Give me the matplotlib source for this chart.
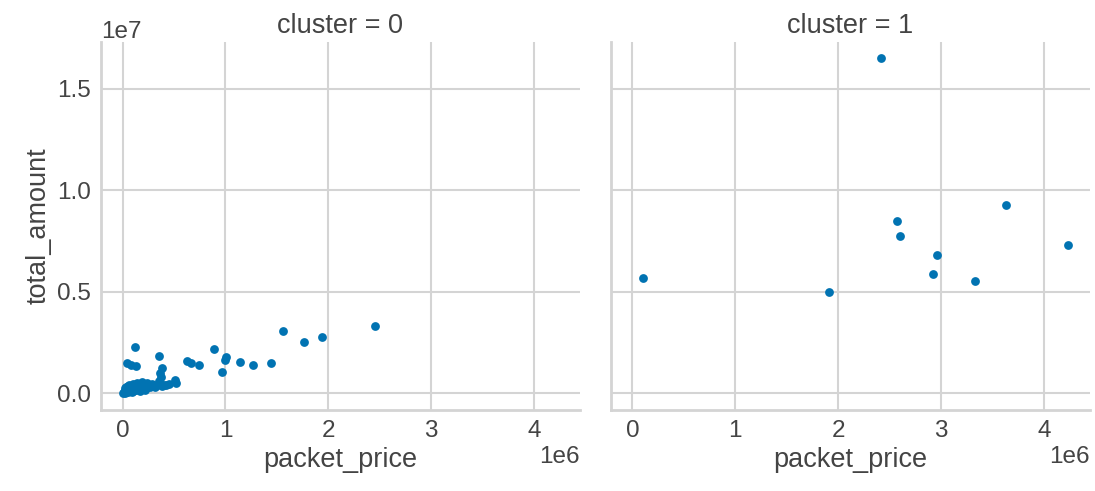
import matplotlib
matplotlib.use("Agg")
import matplotlib.pyplot as plt
from matplotlib.ticker import MultipleLocator
import seaborn as sns
import pandas as pd
import numpy as np

# packet_price and total_amount (in units of 1e6)
c0_price = [0.00, 0.01, 0.02, 0.02, 0.03, 0.04, 0.05, 0.05, 0.06, 0.07,
            0.08, 0.09, 0.10, 0.11, 0.12, 0.13, 0.15, 0.16, 0.18, 0.20,
            0.21, 0.23, 0.25, 0.27, 0.28, 0.30, 0.32, 0.34, 0.36, 0.38,
            0.40, 0.42, 0.45, 0.03, 0.06, 0.10, 0.14, 0.19, 0.24, 0.29,
            0.35, 0.37, 0.36, 0.38, 0.51, 0.52, 0.04, 0.08, 0.13, 0.12,
            0.35, 0.63, 0.67, 0.74, 0.89, 0.97, 1.00, 1.01, 1.14, 1.27,
            1.44, 1.56, 1.76, 1.94, 2.45, 0.02, 0.05, 0.09, 0.17, 0.22]
c0_amount = [0.00, 0.05, 0.02, 0.10, 0.08, 0.15, 0.05, 0.20, 0.12, 0.25,
             0.18, 0.30, 0.10, 0.22, 0.35, 0.15, 0.28, 0.40, 0.20, 0.32,
             0.45, 0.25, 0.38, 0.30, 0.42, 0.35, 0.30, 0.40, 0.45, 0.38,
             0.42, 0.40, 0.48, 0.30, 0.40, 0.45, 0.50, 0.55, 0.50, 0.48,
             0.60, 0.80, 1.00, 1.25, 0.65, 0.50, 1.51, 1.39, 1.34, 2.30,
             1.86, 1.59, 1.48, 1.39, 2.17, 1.03, 1.64, 1.80, 1.56, 1.39,
             1.48, 3.08, 2.54, 2.79, 3.33, 0.25, 0.35, 0.05, 0.10, 0.15]
c1_price = [0.10, 1.91, 2.42, 2.57, 2.60, 2.96, 2.92, 3.33, 3.63, 4.23]
c1_amount = [5.70, 4.97, 16.5, 8.50, 7.76, 6.80, 5.87, 5.52, 9.30, 7.31]

df = pd.DataFrame({
    "packet_price": np.array(c0_price + c1_price) * 1e6,
    "total_amount": np.array(c0_amount + c1_amount) * 1e6,
    "cluster": [0] * len(c0_price) + [1] * len(c1_price),
})

sns.set_style("whitegrid", {"grid.color": "#d4d4d4", "axes.edgecolor": "#d4d4d4"})
plt.rcParams["font.family"] = ["Liberation Sans", "DejaVu Sans"]
plt.rcParams["font.size"] = 17.5
plt.rcParams["grid.linewidth"] = 1.5
plt.rcParams["axes.linewidth"] = 2

g = sns.FacetGrid(df, col="cluster", height=4.91, aspect=1.1)
g.map(plt.scatter, "packet_price", "total_amount", s=40, color="#0173b2",
      linewidths=0)
g.figure.set_size_inches(10.95, 4.91)
g.figure.subplots_adjust(left=0.092, right=0.995, bottom=0.165, top=0.915,
                         wspace=0.065)

for ax in g.axes.flat:
    ax.yaxis.set_major_locator(MultipleLocator(5e6))
    ax.tick_params(labelsize=17.5, colors="#444444")
    ax.xaxis.label.set_size(19.5)
    ax.yaxis.label.set_size(19.5)
    ax.xaxis.label.set_color("#444444")
    ax.yaxis.label.set_color("#444444")
    ax.xaxis.get_offset_text().set_size(17.5)
    ax.yaxis.get_offset_text().set_size(17.5)
    ax.title.set_size(19.5)
    ax.title.set_color("#444444")

g.figure.savefig("out.png", dpi=100)
